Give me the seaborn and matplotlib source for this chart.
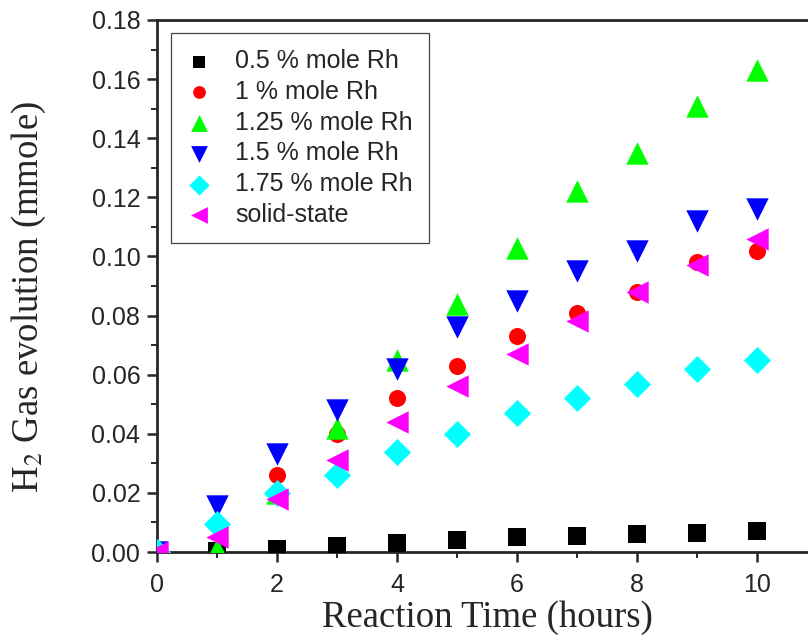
import pandas as pd
import matplotlib
matplotlib.use("Agg")
import matplotlib.pyplot as plt
import seaborn as sns
from matplotlib.ticker import MultipleLocator, FormatStrFormatter

# Dane (czas reakcji w godzinach, H2 w mmol)
time_h = [0, 1, 2, 3, 4, 5, 6, 7, 8, 9, 10]
rh_05 = [0.0, 0.0005, 0.001, 0.002, 0.003, 0.004, 0.005, 0.0055, 0.006, 0.0065, 0.007]
rh_10 = [0.0, 0.009, 0.026, 0.040, 0.052, 0.063, 0.073, 0.081, 0.088, 0.098, 0.102]
rh_125 = [0.0, 0.001, 0.020, 0.042, 0.065, 0.084, 0.103, 0.122, 0.135, 0.151, 0.163]
rh_15 = [0.0, 0.0155, 0.033, 0.048, 0.062, 0.076, 0.085, 0.095, 0.102, 0.112, 0.116]
rh_175 = [0.0, 0.0095, 0.020, 0.026, 0.034, 0.040, 0.047, 0.052, 0.057, 0.062, 0.065]
solid = [0.0, 0.005, 0.018, 0.031, 0.044, 0.056, 0.067, 0.078, 0.088, 0.097, 0.106]

labels = ["0.5 % mole Rh", "1 % mole Rh", "1.25 % mole Rh",
          "1.5 % mole Rh", "1.75 % mole Rh", "solid-state"]
colors = ["#000000", "#ff0000", "#00ff00", "#0000ff", "#00ffff", "#ff00ff"]
markers = ["s", "o", "^", "v", "D", "<"]
sizes = [150, 150, 260, 260, 190, 260]

series = [rh_05, rh_10, rh_125, rh_15, rh_175, solid]
df = pd.concat([pd.DataFrame({"time": time_h, "h2": vals, "sample": lab})
                for lab, vals in zip(labels, series)], ignore_index=True)

sns.set_style("ticks")
plt.rcParams["font.family"] = ["Liberation Sans", "DejaVu Sans"]
plt.rcParams["mathtext.fontset"] = "stix"

W, H = 808, 642
fig = plt.figure(figsize=(W / 100, H / 100), dpi=100)
# osie: x=0 na 157 px, y=0 na 552 px, 60 px na godzine
ax = fig.add_axes([157 / W, 1 - 552 / H, 660 / W, 532 / H])

for lab, col, mk, sz in zip(labels, colors, markers, sizes):
    sns.scatterplot(data=df[df["sample"] == lab], x="time", y="h2", color=col,
                    marker=mk, s=sz, linewidth=0, label=lab, ax=ax, zorder=3)

ax.set_xlim(0, 11)
ax.set_ylim(0, 0.18)
ax.xaxis.set_major_locator(MultipleLocator(2))
ax.xaxis.set_minor_locator(MultipleLocator(1))
ax.yaxis.set_major_locator(MultipleLocator(0.02))
ax.yaxis.set_minor_locator(MultipleLocator(0.01))
ax.yaxis.set_major_formatter(FormatStrFormatter("%.2f"))
ax.tick_params(which="major", direction="out", length=7, width=1.8, labelsize=18, pad=5)
ax.tick_params(axis="x", which="major", pad=8)
ax.tick_params(which="minor", direction="out", length=4, width=1.4)
for sp in ax.spines.values():
    sp.set_visible(True)
    sp.set_linewidth(2.0)

ax.set_xlabel("Reaction Time (hours)", fontsize=26.5, family="Liberation Serif")
ax.set_ylabel("H$_2$ Gas evolution (mmole)", fontsize=26.5, family="Liberation Serif")
ax.xaxis.set_label_coords(0.5, (552 - 600) / 532)
ax.yaxis.set_label_coords((48 - 157) / 660, 0.48)

leg = ax.legend(loc="upper left", bbox_to_anchor=((171 - 157) / 660, (552 - 33) / 532),
                borderaxespad=0, fontsize=18, markerscale=0.75, frameon=True,
                fancybox=False, labelspacing=0.27, handletextpad=0.97,
                borderpad=0.65, handlelength=0.94)
leg.get_frame().set_edgecolor("#444444")
leg.get_frame().set_linewidth(0.9)
leg.get_frame().set_alpha(1)

fig.savefig("out.png", dpi=100)
